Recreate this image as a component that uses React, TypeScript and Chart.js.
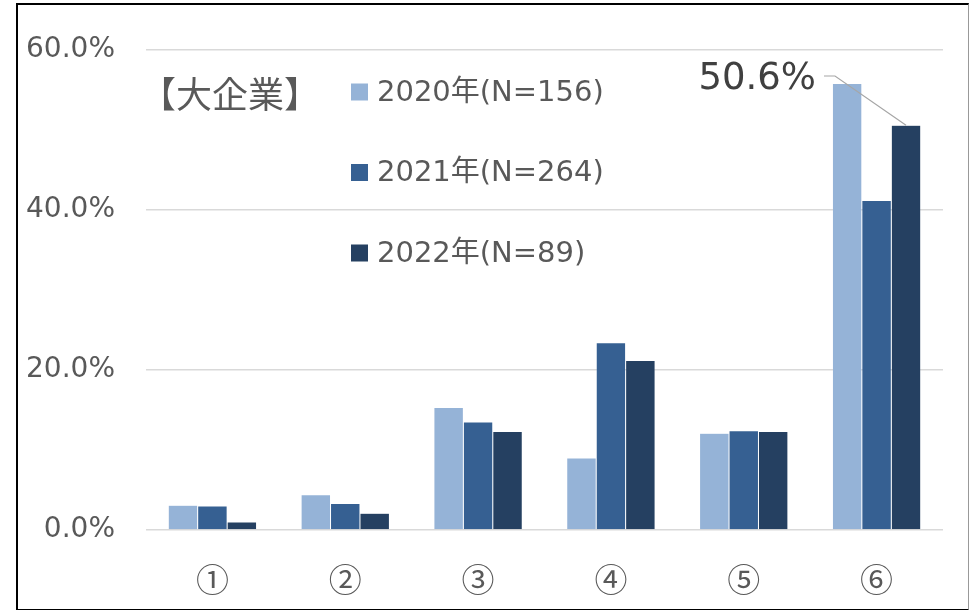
import React, { useEffect, useRef } from "react";
import { Chart, registerables } from "chart.js";
Chart.register(...registerables);

const categories = ["①", "②", "③", "④", "⑤", "⑥"];
const seriesLabels = ["2020年(N=156)", "2021年(N=264)", "2022年(N=89)"];
const values2020 = [3.1, 4.4, 15.3, 9.0, 12.1, 55.8];
const values2021 = [3.0, 3.3, 13.5, 23.4, 12.4, 41.2];
const values2022 = [1.0, 2.1, 12.3, 21.2, 12.3, 50.6];
const yTicks = [0, 20, 40, 60];
const colors = ["#95B3D7", "#366092", "#254061"];
const panelTitle = "【大企業】";
const calloutSeries = 2;
const calloutIndex = 5;

const FONT = '"DejaVu Sans", "Noto Sans CJK JP", sans-serif';
const CJK = '"Noto Sans CJK JP", "DejaVu Sans", sans-serif';

const overlay = {
  id: "overlay",
  afterDraw(chart: any) {
    const ctx = chart.ctx;
    ctx.save();
    // panel title
    ctx.fillStyle = "#595959";
    ctx.font = `36px ${CJK}`;
    ctx.textAlign = "left";
    ctx.textBaseline = "middle";
    ctx.fillText(panelTitle, 140, 94);
    // legend
    chart.data.datasets.forEach((ds: any, i: number) => {
      const y = 92 + i * 80.5;
      ctx.fillStyle = ds.backgroundColor;
      ctx.fillRect(351, y - 8.5, 17, 17);
      ctx.fillStyle = "#595959";
      ctx.font = `29px ${FONT}`;
      ctx.fillText(ds.label, 377, y + 1);
    });
    // callout
    const el = chart.getDatasetMeta(calloutSeries).data[calloutIndex];
    const v = chart.data.datasets[calloutSeries].data[calloutIndex];
    ctx.strokeStyle = "#a6a6a6";
    ctx.lineWidth = 1.2;
    ctx.beginPath();
    ctx.moveTo(824, 76);
    ctx.lineTo(835, 76);
    ctx.lineTo(el.x, el.y);
    ctx.stroke();
    ctx.fillStyle = "#404040";
    ctx.font = `37px ${FONT}`;
    ctx.textAlign = "right";
    ctx.fillText(v.toFixed(1) + "%", 816, 79);
    ctx.restore();
  },
};

export default function App() {
  const ref = useRef<HTMLCanvasElement>(null);
  useEffect(() => {
    if (!ref.current) return;
    const chart = new Chart(ref.current, {
      type: "bar",
      data: {
        labels: categories,
        datasets: [values2020, values2021, values2022].map((d, i) => ({
          label: seriesLabels[i],
          data: d,
          backgroundColor: colors[i],
          borderColor: "rgba(255,255,255,0.2)",
          borderWidth: 0.5,
          barPercentage: 1,
          categoryPercentage: 0.665,
        })),
      },
      options: {
        responsive: false,
        animation: false,
        devicePixelRatio: 1,
        layout: { padding: { top: 50, right: 32, left: 0, bottom: 0 } },
        plugins: { legend: { display: false }, tooltip: { enabled: false } },
        scales: {
          x: {
            grid: { display: false, drawTicks: false },
            border: { display: false },
            ticks: { color: "#595959", font: { family: CJK, size: 33 }, padding: 30 },
            afterFit: (s: any) => { s.height = 80; },
          },
          y: {
            min: 0,
            max: 60,
            afterBuildTicks: (s: any) => { s.ticks = yTicks.map((v) => ({ value: v })); },
            grid: { color: "#d9d9d9", lineWidth: 1.5, drawTicks: false },
            border: { display: false },
            ticks: {
              color: "#595959",
              font: { family: FONT, size: 28 },
              padding: 31,
              callback: (v: any) => Number(v).toFixed(1) + "%",
            },
            afterFit: (s: any) => { s.width = 146; },
          },
        },
      },
      plugins: [overlay],
    });
    return () => chart.destroy();
  }, []);
  return (
    <div style={{ position: "absolute", left: 0, top: 0, width: 975, height: 610, background: "#fff" }}>
      <canvas ref={ref} width={975} height={610} style={{ position: "absolute", left: 0, top: 0 }} />
      <div
        style={{
          position: "absolute",
          left: 16,
          top: 3,
          width: 950,
          height: 604,
          borderLeft: "2px solid #000",
          borderTop: "2px solid #000",
          borderBottom: "2px solid #000",
          borderRight: "1px solid #999",
          pointerEvents: "none",
        }}
      />
    </div>
  );
}
